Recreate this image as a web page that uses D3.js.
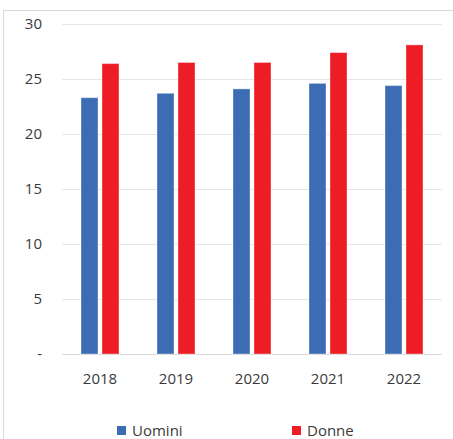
<!DOCTYPE html>
<html>
<head>
<meta charset="utf-8">
<script src="https://cdn.jsdelivr.net/npm/d3@7"></script>
<style>
  body { margin: 0; background: #fff; }
  svg text { font-family: "Open Sans", sans-serif; fill: #3a3a3a; }
</style>
</head>
<body>
<div id="chart"></div>
<script>
const years = ["2018", "2019", "2020", "2021", "2022"];
const uomini = [23.3, 23.7, 24.1, 24.6, 24.4];
const donne = [26.4, 26.5, 26.5, 27.4, 28.1];
const yTicks = [0, 5, 10, 15, 20, 25, 30];
const seriesNames = ["Uomini", "Donne"];
const colors = ["#3C6CB4", "#EE1C25"];

const W = 453, H = 439;
const margin = {left: 62, right: 11, top: 24, bottom: 85};
const iw = W - margin.left - margin.right;
const ih = H - margin.top - margin.bottom;

const svg = d3.select("#chart").append("svg")
    .attr("width", W).attr("height", H);

// outer frame
svg.append("rect")
    .attr("x", 3.5).attr("y", 10.5)
    .attr("width", W + 10).attr("height", H)
    .attr("fill", "none").attr("stroke", "#d9d9d9");

const g = svg.append("g").attr("transform", `translate(${margin.left},${margin.top})`);

const x = d3.scaleBand().domain(years).range([0, iw]);
const y = d3.scaleLinear().domain([0, 30]).range([ih, 0]);

// gridlines
g.selectAll("line.grid")
    .data(yTicks)
    .join("line")
    .attr("x1", 0).attr("x2", iw)
    .attr("y1", d => y(d) + 0.5).attr("y2", d => y(d) + 0.5)
    .attr("stroke", d => d === 0 ? "#d9d9d9" : "#e6e6e6")
    .attr("stroke-width", 1);

// y labels
g.selectAll("text.ylab")
    .data(yTicks)
    .join("text")
    .attr("x", -20)
    .attr("y", d => y(d))
    .attr("dy", "0.35em")
    .attr("text-anchor", "end")
    .style("font-size", "15px")
    .text(d => d === 0 ? "-" : d);

// bars
const barW = 17, gap = 4;
const rows = years.map((yr, i) => ({year: yr, vals: [uomini[i], donne[i]]}));

const grp = g.selectAll("g.year")
    .data(rows)
    .join("g")
    .attr("transform", d => `translate(${x(d.year) + x.bandwidth() / 2},0)`);

grp.selectAll("rect")
    .data(d => d.vals.map((v, k) => ({v, k})))
    .join("rect")
    .attr("x", d => d.k === 0 ? -barW - gap / 2 : gap / 2)
    .attr("y", d => y(d.v))
    .attr("width", barW)
    .attr("height", d => y(0) - y(d.v))
    .attr("fill", d => colors[d.k])
    .attr("stroke", "rgba(255,255,255,0.35)")
    .attr("stroke-width", 1);

// x labels
g.selectAll("text.xlab")
    .data(years)
    .join("text")
    .attr("x", d => x(d) + x.bandwidth() / 2)
    .attr("y", ih + 30)
    .attr("text-anchor", "middle")
    .style("font-size", "15px")
    .text(d => d);

// legend
const legX = [117, 292];
const leg = svg.selectAll("g.leg")
    .data(seriesNames)
    .join("g")
    .attr("transform", (d, i) => `translate(${legX[i]},426)`);

leg.append("rect")
    .attr("width", 9).attr("height", 9)
    .attr("fill", (d, i) => colors[i]);

leg.append("text")
    .attr("x", 15)
    .attr("y", 10)
    .style("font-size", "15px")
    .text(d => d);
</script>
</body>
</html>
